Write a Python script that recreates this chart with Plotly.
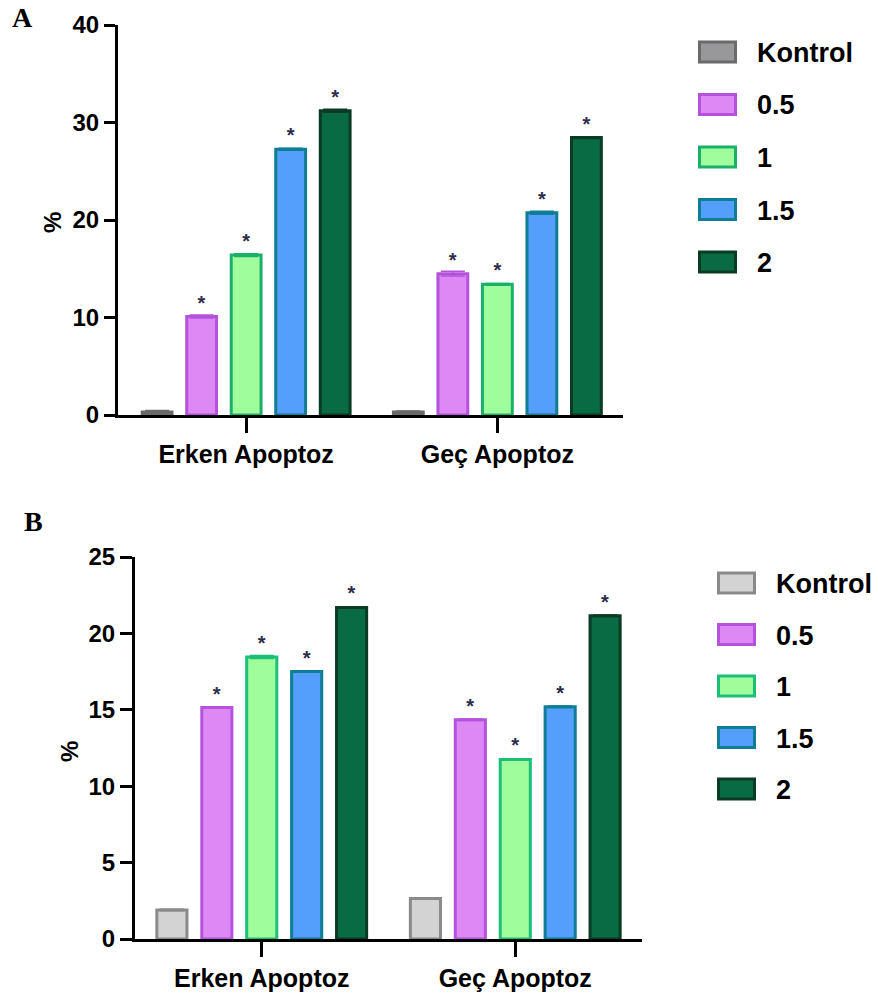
import plotly.graph_objects as go

W, H = 878, 998

categories = ["Erken Apoptoz", "Geç Apoptoz"]
series_names = ["Kontrol", "0.5", "1", "1.5", "2"]

# Panel A values (%)
A_erken = [0.3, 10.1, 16.4, 27.25, 31.2]
A_gec = [0.3, 14.5, 13.4, 20.75, 28.45]
A_err_erken = [0.15, 0.15, 0.15, 0.1, 0.15]
A_err_gec = [0.1, 0.25, 0.1, 0.15, 0.1]

# Panel B values (%)
B_erken = [1.9, 15.15, 18.45, 17.5, 21.7]
B_gec = [2.65, 14.35, 11.75, 15.2, 21.15]
B_err_erken = [0.05, 0.05, 0.1, 0.05, 0.05]
B_err_gec = [0.05, 0.05, 0.05, 0.05, 0.05]

A_ticks = [0, 10, 20, 30, 40]
B_ticks = [0, 5, 10, 15, 20, 25]

stars = ["", "*", "*", "*", "*"]

fills_A = ["#98989b", "#dd88f5", "#a0fd9c", "#559ffc", "#086b43"]
fills_B = ["#d3d3d3", "#dd88f5", "#a0fd9c", "#559ffc", "#086b43"]
lines_A = ["#6a6a6a", "#b552dc", "#1bb06a", "#0f7d94", "#0b3b25"]
lines_B = ["#8a8a8a", "#b552dc", "#1bbf78", "#0f7d94", "#0b3b25"]

FONT = "Liberation Sans"
STAR_COLOR = "#2b2b4a"


def px_x(p):
    return p / W


def px_y(p):
    return 1 - p / H


fig = go.Figure()

panels = [
    ("x", "y", A_erken, A_gec, A_err_erken, A_err_gec, fills_A, lines_A),
    ("x2", "y2", B_erken, B_gec, B_err_erken, B_err_gec, fills_B, lines_B),
]

for xa, ya, er, ge, eer, ege, fills, lines in panels:
    for i, name in enumerate(series_names):
        fig.add_trace(go.Bar(
            x=categories,
            y=[er[i], ge[i]],
            name=name,
            xaxis=xa, yaxis=ya,
            marker=dict(color=fills[i], line=dict(color=lines[i], width=3)),
            error_y=dict(type="data", array=[eer[i], ege[i]], visible=True,
                         color=lines[i], thickness=1.5, width=12),
            text=[stars[i], stars[i]],
            textposition="outside",
            textfont=dict(family=FONT, size=20, color=STAR_COLOR, weight="bold"),
            cliponaxis=False,
            showlegend=False,
        ))

axis_common = dict(
    showline=True, linewidth=3, linecolor="black",
    ticks="outside", tickwidth=3, tickcolor="black",
    showgrid=False, zeroline=False, automargin=False,
    fixedrange=True,
)
ytickfont = dict(family=FONT, size=24, color="black", weight="bold")
xtickfont = dict(family=FONT, size=25, color="black", weight="bold")

fig.update_layout(
    width=W, height=H,
    margin=dict(l=0, r=0, t=0, b=0, autoexpand=False),
    paper_bgcolor="white", plot_bgcolor="white",
    barmode="group", bargap=0.114, bargroupgap=0.33,
    xaxis=dict(domain=[px_x(118), px_x(623)], anchor="y", range=[-0.51, 1.5],
               ticklen=15, tickfont=xtickfont, **axis_common),
    yaxis=dict(domain=[px_y(415), px_y(25)], anchor="x", range=[0, 40],
               tickvals=A_ticks, ticklen=11, tickfont=ytickfont, **axis_common),
    xaxis2=dict(domain=[px_x(135), px_x(642)], anchor="y2", range=[-0.5, 1.5],
                ticklen=15, tickfont=xtickfont, **axis_common),
    yaxis2=dict(domain=[px_y(939), px_y(557)], anchor="x2", range=[0, 25],
                tickvals=B_ticks, ticklen=12, tickfont=ytickfont, **axis_common),
)

annotations = []
shapes = []

# Panel letters
annotations.append(dict(text="A", x=px_x(22.5), y=px_y(17.5), xref="paper", yref="paper",
                        xanchor="center", yanchor="middle", showarrow=False,
                        font=dict(family="Liberation Serif", size=28,
                                  color="black", weight="bold")))
annotations.append(dict(text="B", x=px_x(33), y=px_y(521), xref="paper", yref="paper",
                        xanchor="center", yanchor="middle", showarrow=False,
                        font=dict(family="Liberation Serif", size=28,
                                  color="black", weight="bold")))

# Y axis titles
annotations.append(dict(text="%", x=px_x(53), y=px_y(223), xref="paper", yref="paper",
                        xanchor="center", yanchor="middle", showarrow=False, textangle=-90,
                        font=dict(family=FONT, size=24, color="black", weight="bold")))
annotations.append(dict(text="%", x=px_x(69), y=px_y(752), xref="paper", yref="paper",
                        xanchor="center", yanchor="middle", showarrow=False, textangle=-90,
                        font=dict(family=FONT, size=24, color="black", weight="bold")))

# Custom legends
legend_specs = [
    (698, 52, 52.5, fills_A, lines_A),
    (717, 583, 51.5, fills_B, lines_B),
]
for lx, ly0, dy, fills, lines in legend_specs:
    for i, name in enumerate(series_names):
        cy = ly0 + i * dy
        shapes.append(dict(type="rect", xref="paper", yref="paper",
                           x0=px_x(lx + 1.5), x1=px_x(lx + 37.5),
                           y0=px_y(cy + 10), y1=px_y(cy - 10),
                           fillcolor=fills[i], line=dict(color=lines[i], width=3)))
        annotations.append(dict(text=name, x=px_x(lx + 57), y=px_y(cy + 1),
                                xref="paper", yref="paper", xanchor="left",
                                yanchor="middle", showarrow=False,
                                font=dict(family=FONT, size=27, color="black",
                                          weight="bold")))

fig.update_layout(annotations=annotations, shapes=shapes)

fig.write_html("out.html")
